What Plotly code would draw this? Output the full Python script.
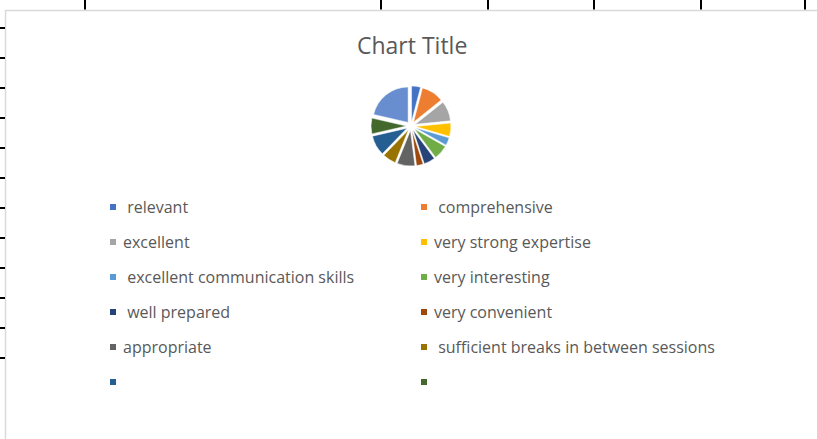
import plotly.graph_objects as go

# Slice labels (Excel-style, some with leading spaces) and values
labels = [" relevant", " comprehensive", "excellent", "very strong expertise",
          " excellent communication skills", "very interesting", " well prepared",
          "very convenient", "appropriate", " sufficient breaks in between sessions",
          "", "", ""]
values = [4, 10, 9, 6, 3.5, 6.5, 5, 3, 8, 6, 9, 7, 21]
colors = ["#4472C4", "#ED7D31", "#A5A5A5", "#FFC000", "#5B9BD5", "#70AD47",
          "#264478", "#9E480E", "#636363", "#997300", "#255E91", "#43682B", "#698ED0"]

W, H = 817, 439
cx, cy, box = 411, 126, 40
FONT = "Open Sans, Liberation Sans, sans-serif"

fig = go.Figure()
fig.add_trace(go.Pie(
    labels=[f"s{i}" for i in range(len(values))],
    values=values,
    marker=dict(colors=colors, line=dict(color="white", width=0.5)),
    sort=False, direction="clockwise", rotation=0,
    pull=0.13, textinfo="none", showlegend=False,
    domain=dict(x=[(cx - box) / W, (cx + box) / W],
                y=[(H - cy - box) / H, (H - cy + box) / H]),
))

shapes = []
annotations = []

# chart area border (runs off the right / bottom of the window)
shapes.append(dict(type="rect", xref="x", yref="y", x0=5.5, y0=10.5, x1=W + 20, y1=H + 20,
                   line=dict(color="#D9D9D9", width=1.5), fillcolor="white", layer="below"))

# spreadsheet grid ticks outside the chart area
for x in [85, 381, 488, 594, 701, 805]:
    shapes.append(dict(type="line", xref="x", yref="y", x0=x, x1=x, y0=0, y1=9.5,
                       line=dict(color="black", width=2)))
for y in range(28, 361, 30):
    shapes.append(dict(type="line", xref="x", yref="y", x0=0, x1=5, y0=y, y1=y,
                       line=dict(color="black", width=2)))

# legend: two columns, six rows (13th entry cut off)
col_x = [110, 421]
row_y0, row_dy = 207, 35
for i in range(12):
    lx = col_x[i % 2]
    ly = row_y0 + (i // 2) * row_dy
    shapes.append(dict(type="rect", xref="x", yref="y", x0=lx, x1=lx + 6, y0=ly - 3, y1=ly + 3,
                       fillcolor=colors[i], line=dict(width=0)))
    annotations.append(dict(x=lx + 11, y=ly, xref="x", yref="y",
                            text=labels[i].replace(" ", "&nbsp;", 1),
                            showarrow=False, xanchor="left", yanchor="middle",
                            font=dict(family=FONT, size=16, color="#595959")))

annotations.append(dict(x=cx + 1, y=45, xref="x", yref="y", text="Chart Title", showarrow=False,
                        xanchor="center", yanchor="middle",
                        font=dict(family=FONT, size=23, color="#595959")))

fig.update_layout(
    width=W, height=H,
    margin=dict(l=0, r=0, t=0, b=0),
    paper_bgcolor="white", plot_bgcolor="white",
    xaxis=dict(range=[0, W], visible=False, fixedrange=True),
    yaxis=dict(range=[H, 0], visible=False, fixedrange=True),
    shapes=shapes, annotations=annotations,
)

fig.write_html("out.html", config={"displayModeBar": False},
               post_script="document.body.style.margin='0';document.body.style.overflow='hidden';")
